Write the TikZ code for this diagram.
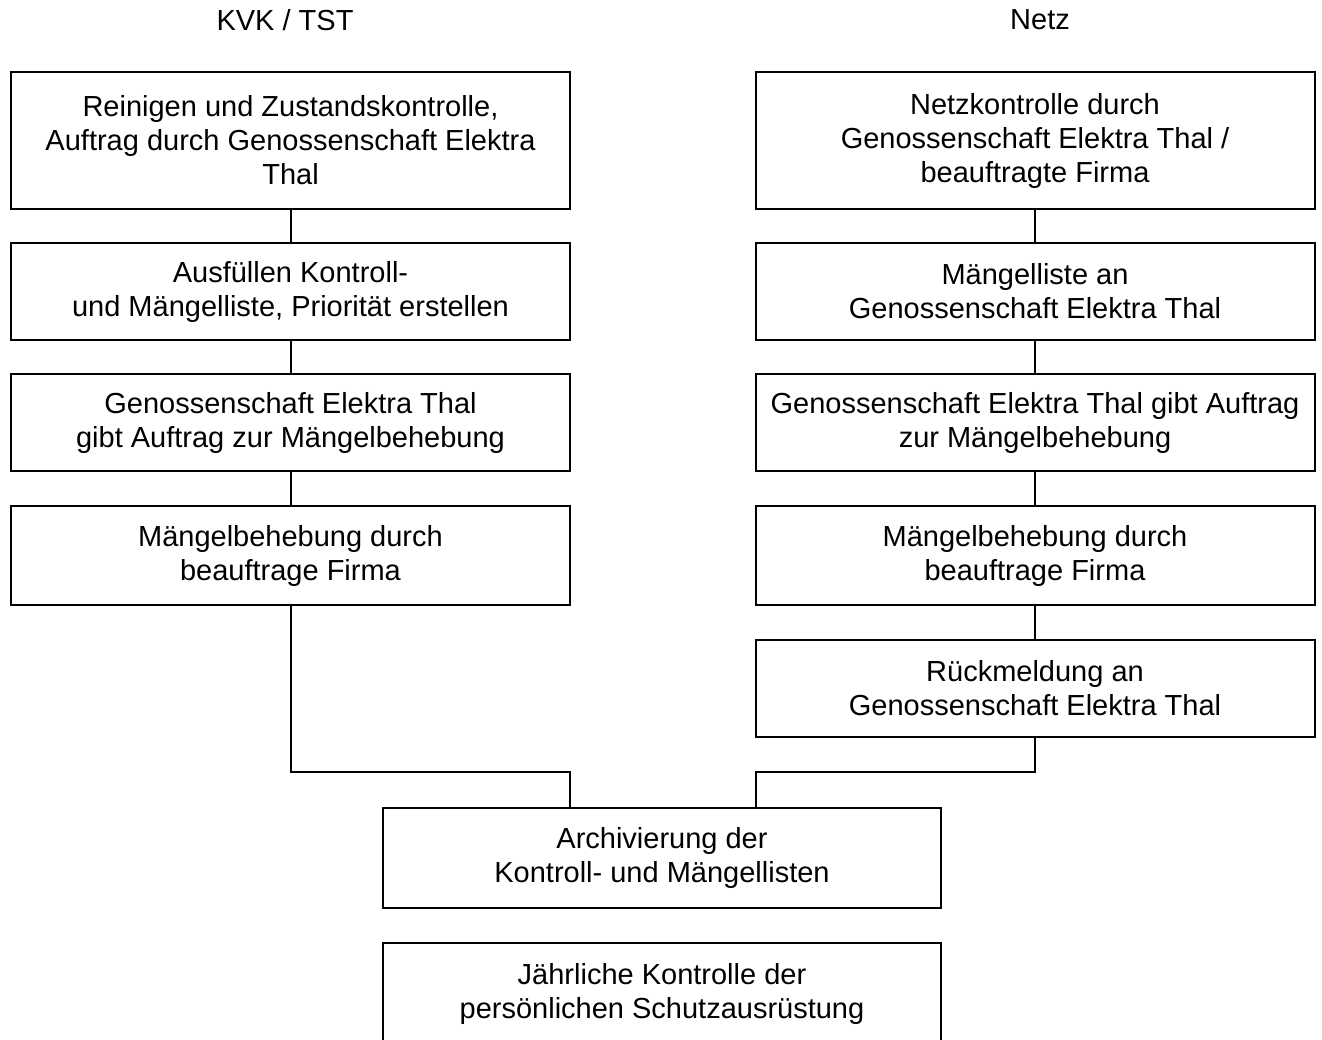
\documentclass[tikz,border=0pt]{standalone}
\usepackage{fontspec}
\setmainfont{Liberation Sans}
\usetikzlibrary{calc}
\begin{document}
\begin{tikzpicture}[x=1pt,y=-1pt,
  box/.style={draw,line width=2pt,rectangle,inner sep=0pt,outer sep=0pt,align=center,
    font=\fontsize{29}{34}\selectfont},
  wide/.style={minimum width=559pt},
  conn/.style={line width=2pt},
  title/.style={font=\fontsize{29}{34}\selectfont}]
\useasboundingbox (0,0) rectangle (1322,1039);
\node[title] (tL) at (285,20) {KVK / TST};
\node[title] (tR) at (1040,20) {Netz};
% left column
\node[box,wide,minimum height=137pt] (L1) at (290.5,140.5) {Reinigen und Zustandskontrolle,\\Auftrag durch Genossenschaft Elektra\\Thal};
\node[box,wide,minimum height=97pt] (L2) at (290.5,291.5) {Ausfüllen Kontroll-\\und Mängelliste, Priorität erstellen};
\node[box,wide,minimum height=97pt] (L3) at (290.5,422.5) {Genossenschaft Elektra Thal\\gibt Auftrag zur Mängelbehebung};
\node[box,wide,minimum height=99pt] (L4) at (290.5,555.5) {Mängelbehebung durch\\beauftrage Firma};
% right column
\node[box,wide,minimum height=137pt] (R1) at (1035,140.5) {Netzkontrolle durch\\Genossenschaft Elektra Thal /\\beauftragte Firma};
\node[box,wide,minimum height=97pt] (R2) at (1035,291.5) {Mängelliste an\\Genossenschaft Elektra Thal};
\node[box,wide,minimum height=97pt] (R3) at (1035,422.5) {Genossenschaft Elektra Thal gibt Auftrag\\zur Mängelbehebung};
\node[box,wide,minimum height=99pt] (R4) at (1035,555.5) {Mängelbehebung durch\\beauftrage Firma};
\node[box,wide,minimum height=97pt] (R5) at (1035,688.5) {Rückmeldung an\\Genossenschaft Elektra Thal};
% bottom
\node[box,minimum width=558pt,minimum height=100pt] (A) at (662,858) {Archivierung der\\Kontroll- und Mängellisten};
\node[box,minimum width=558pt,minimum height=101pt] (B) at (662,993.5) {Jährliche Kontrolle der\\persönlichen Schutzausrüstung};
% connectors
\draw[conn] (L1.south) -- (L2.north);
\draw[conn] (L2.south) -- (L3.north);
\draw[conn] (L3.south) -- (L4.north);
\draw[conn] (R1.south) -- (R2.north);
\draw[conn] (R2.south) -- (R3.north);
\draw[conn] (R3.south) -- (R4.north);
\draw[conn] (R4.south) -- (R5.north);
\coordinate (inL) at ([xshift=187pt]A.north west);
\coordinate (inR) at ([xshift=-185pt]A.north east);
\draw[conn] (L4.south) |- ($(inL)+(0,-36)$) -- (inL);
\draw[conn] (R5.south) |- ($(inR)+(0,-36)$) -- (inR);
\end{tikzpicture}
\end{document}
